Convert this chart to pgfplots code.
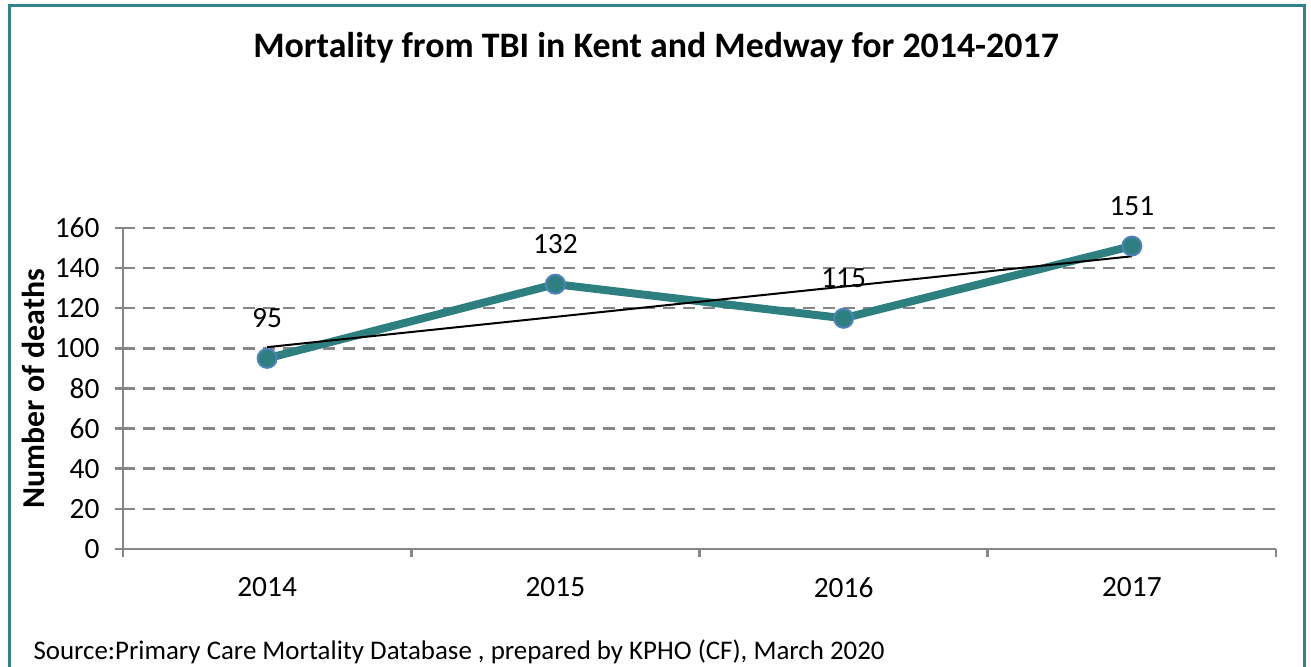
\documentclass[border=0pt]{standalone}
\usepackage{pgfplots}
\pgfplotsset{compat=1.18}
\usepackage{fontspec}
\setmainfont{Carlito}
\definecolor{teal1}{RGB}{46,128,128}
\definecolor{frameteal}{RGB}{49,130,140}
\definecolor{mblue}{RGB}{79,129,189}
\definecolor{gridgray}{RGB}{134,134,134}
\begin{document}
\begin{tikzpicture}[x=1bp,y=1bp]
\useasboundingbox (0,0) rectangle (1311,666);
\draw[frameteal, line width=3bp] (9,-5) -- (9,660.5) -- (1304,660.5) -- (1304,-5);
\node[font=\fontsize{27}{30}\selectfont, anchor=west] at (30,14) {Source:Primary Care Mortality Database , prepared by KPHO (CF), March 2020};
\begin{axis}[
  at={(123bp,117bp)}, anchor=south west, scale only axis,
  width=1153bp, height=321bp,
  xmin=-0.5, xmax=3.5, ymin=0, ymax=160,
  axis x line=bottom, axis y line=left,
  axis line style={gridgray, line width=2.5bp, -},
  /pgf/number format/assume math mode=true,
  ytick={0,20,...,160},
  xtick={0,1,2,3}, xticklabels={2014,2015,2016,2017},
  minor xtick={-0.5,0.5,1.5,2.5,3.5},
  tick align=outside,
  major tick length=8bp, minor tick length=8bp,
  major x tick style={draw=none},
  minor x tick style={gridgray, line width=2.5bp},
  y tick style={gridgray, line width=2.5bp},
  ymajorgrids,
  major grid style={gridgray, line width=2.5bp, dash pattern=on 12bp off 8bp},
  ticklabel style={font=\fontsize{29.5}{32}\selectfont, text=black},
  yticklabel style={xshift=-12bp},
  xticklabel style={yshift=-17bp},
  title={Mortality from TBI in Kent and Medway for 2014-2017},
  title style={font=\fontsize{36}{40}\selectfont\bfseries, at={(axis description cs:0.4623,1.514)}, anchor=base},
  ylabel={Number of deaths},
  every axis y label/.style={at={(axis description cs:-0.078,0.5)}, rotate=90, anchor=center, font=\fontsize{32}{36}\selectfont\bfseries},
  clip=false,
]
\addplot[teal1, line width=8bp, mark=*, mark size=9.5bp,
  mark options={fill=teal1, draw=mblue, line width=2bp},
  nodes near coords,
  every node near coord/.append style={font=\fontsize{29.5}{32}\selectfont, text=black, anchor=center, yshift=40bp}]
  coordinates {(0,95) (1,132) (2,115) (3,151)};
\addplot[black, line width=2bp] coordinates {(0,100.6) (3,145.9)};
\end{axis}
\end{tikzpicture}
\end{document}
